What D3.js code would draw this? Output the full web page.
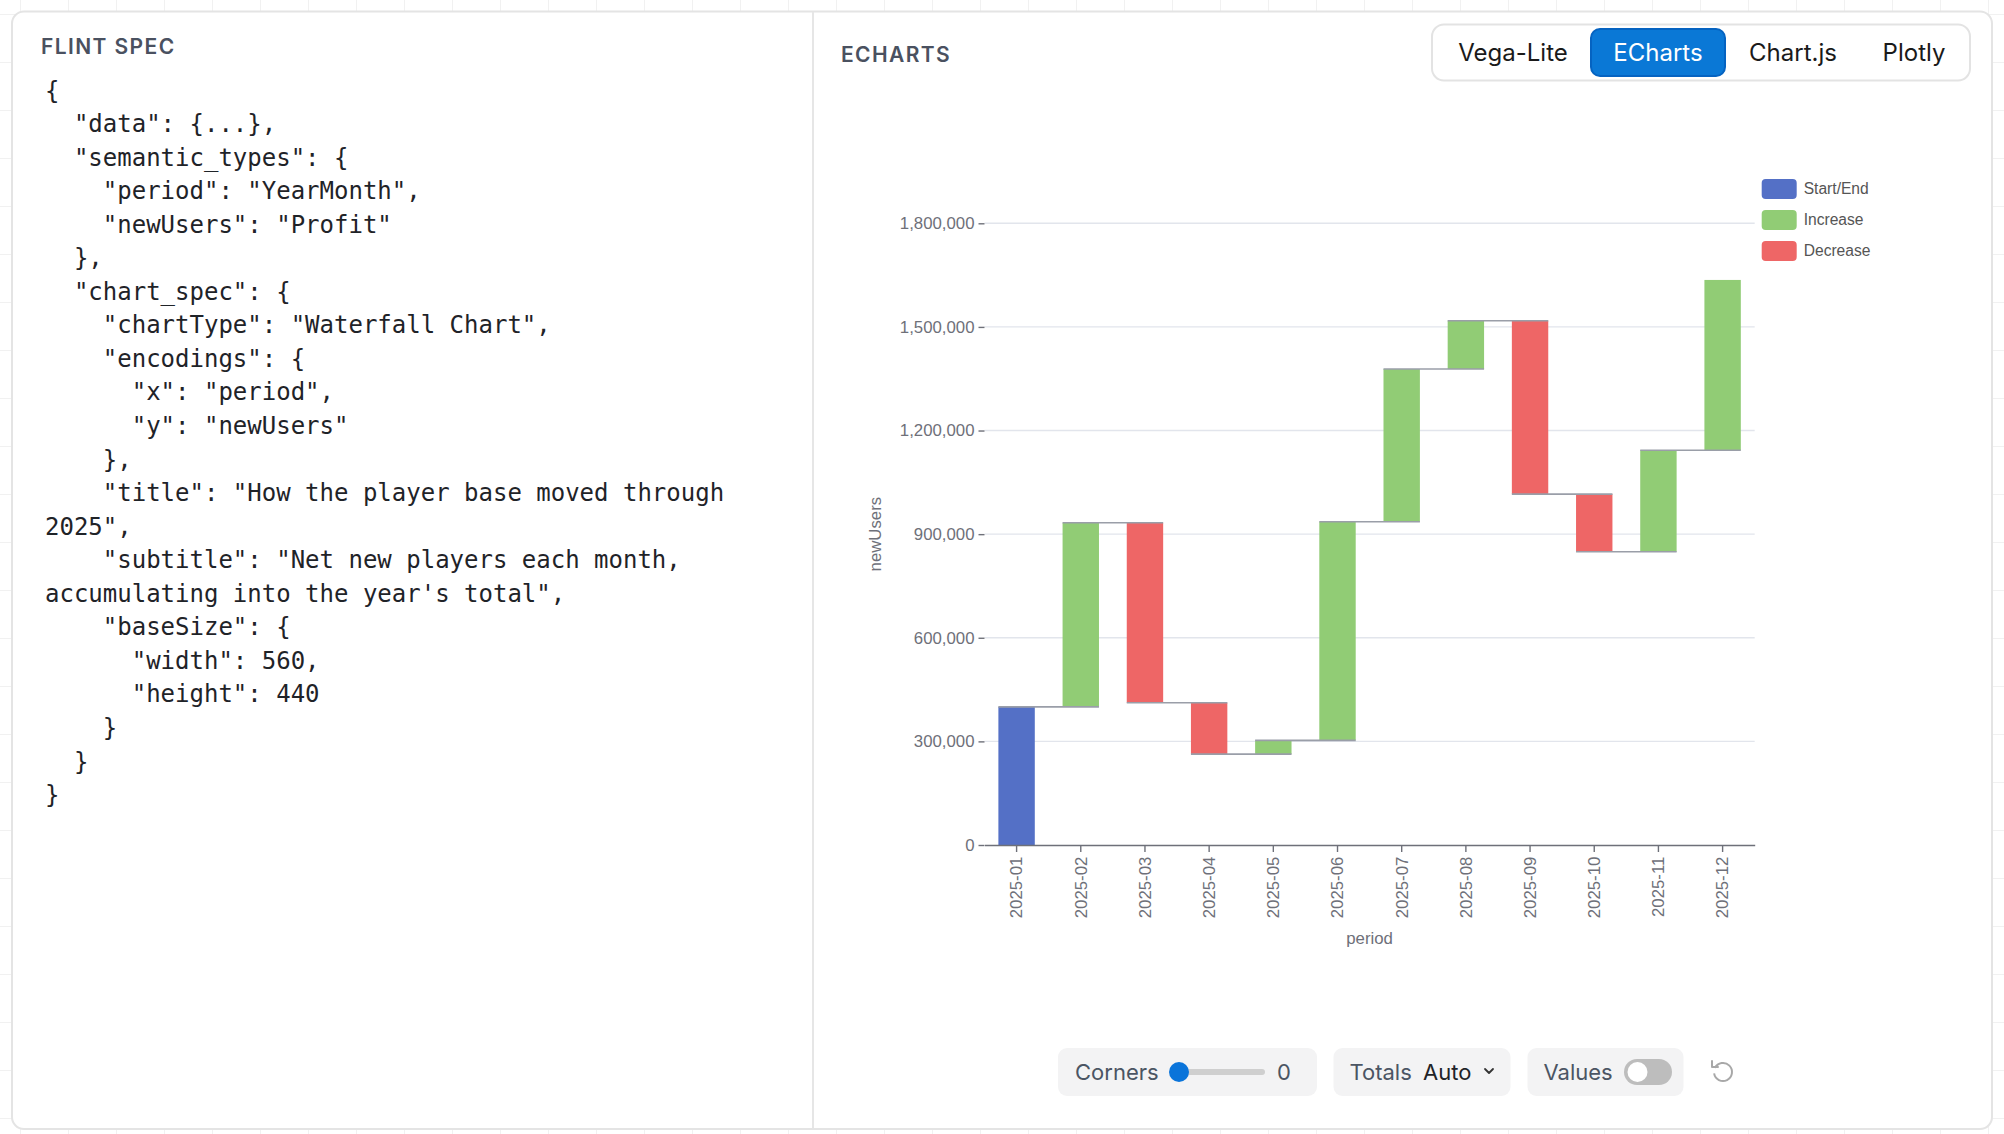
<!DOCTYPE html>
<html>
<head>
<meta charset="utf-8">
<script src="https://cdn.jsdelivr.net/npm/d3@7"></script>
<style>
  html, body { margin: 0; padding: 0; background: #fff; }
  svg { display: block; }
  .mono { font-family: "DejaVu Sans Mono", monospace; white-space: pre; }
  .ui { font-family: Inter, "Noto Sans", sans-serif; }
  .chart text { font-family: "Liberation Sans", Arial, sans-serif; }
</style>
</head>
<body>
<div id="page"></div>
<script>
// --- data ---
const periods = ['2025-01', '2025-02', '2025-03', '2025-04', '2025-05', '2025-06',
                 '2025-07', '2025-08', '2025-09', '2025-10', '2025-11', '2025-12'];
// monthly net change; the first month is the starting level
const newUsers = [400000, 533000, -521000, -149000, 40000, 633000,
                  442000, 140000, -502000, -167000, 294000, 493000];
const yTicks = [0, 300000, 600000, 900000, 1200000, 1500000, 1800000];
const legendLabels = ['Start/End', 'Increase', 'Decrease'];
const legendColors = ['#5470c6', '#91cc75', '#ee6666'];
const tabLabels = ['Vega-Lite', 'ECharts', 'Chart.js', 'Plotly'];
const specLines = [
  '{',
  '  "data": {...},',
  '  "semantic_types": {',
  '    "period": "YearMonth",',
  '    "newUsers": "Profit"',
  '  },',
  '  "chart_spec": {',
  '    "chartType": "Waterfall Chart",',
  '    "encodings": {',
  '      "x": "period",',
  '      "y": "newUsers"',
  '    },',
  '    "title": "How the player base moved through',
  '2025",',
  '    "subtitle": "Net new players each month,',
  'accumulating into the year\'s total",',
  '    "baseSize": {',
  '      "width": 560,',
  '      "height": 440',
  '    }',
  '  }',
  '}'
];

const W = 2004, H = 1134;
const svg = d3.select('#page').append('svg').attr('width', W).attr('height', H);

// --- page background grid ---
const bg = svg.append('g').attr('stroke', '#f1f1f1').attr('stroke-width', 1);
d3.range(20, W, 48).forEach(x => bg.append('line').attr('x1', x + 0.5).attr('x2', x + 0.5).attr('y1', 0).attr('y2', H));
d3.range(14, H, 48).forEach(y => bg.append('line').attr('y1', y + 0.5).attr('y2', y + 0.5).attr('x1', 0).attr('x2', W));

// --- card + divider ---
svg.append('rect').attr('x', 12).attr('y', 11.5).attr('width', 1980).attr('height', 1117.5)
  .attr('rx', 12).attr('fill', '#fff').attr('stroke', '#e4e4e4').attr('stroke-width', 2);
svg.append('line').attr('x1', 813).attr('x2', 813).attr('y1', 12).attr('y2', 1128)
  .attr('stroke', '#e6e6e6').attr('stroke-width', 2);

// --- left panel: spec ---
svg.append('text').attr('class', 'ui').attr('x', 41).attr('y', 54)
  .attr('font-size', 21).attr('font-weight', 600).attr('letter-spacing', 1.4)
  .attr('fill', '#4a5160').text('FLINT SPEC');

svg.append('g').selectAll('text').data(specLines).join('text')
  .attr('class', 'mono')
  .attr('x', 45)
  .attr('y', (d, i) => 98.5 + i * 33.55)
  .attr('font-size', 24)
  .attr('fill', '#1f2328')
  .text(d => d);

// --- right panel header ---
svg.append('text').attr('class', 'ui').attr('x', 841).attr('y', 61.5)
  .attr('font-size', 21).attr('font-weight', 600).attr('letter-spacing', 1.4)
  .attr('fill', '#4a5160').text('ECHARTS');

const tabs = svg.append('g').attr('class', 'ui');
tabs.append('rect').attr('x', 1432).attr('y', 24.5).attr('width', 538).attr('height', 56)
  .attr('rx', 12).attr('fill', '#fff').attr('stroke', '#e3e3e3').attr('stroke-width', 2);
tabs.append('rect').attr('x', 1591).attr('y', 29).attr('width', 134).attr('height', 47)
  .attr('rx', 9).attr('fill', '#0a78d6').attr('stroke', '#0563c1').attr('stroke-width', 2);
const tabCenters = [1513, 1658, 1793, 1914];
tabs.selectAll('text.tab').data(tabLabels).join('text')
  .attr('class', 'tab')
  .attr('x', (d, i) => tabCenters[i]).attr('y', 61)
  .attr('text-anchor', 'middle').attr('font-size', 24).attr('font-weight', 400)
  .attr('fill', d => d === 'ECharts' ? '#fff' : '#1a1a1a')
  .text(d => d);

// --- waterfall chart ---
const ends = [];
newUsers.reduce((acc, v) => { const e = acc + v; ends.push(e); return e; }, 0);
const rows = periods.map((p, i) => {
  const start = i === 0 ? 0 : ends[i - 1];
  const kind = i === 0 ? 'Start/End' : (newUsers[i] >= 0 ? 'Increase' : 'Decrease');
  return { period: p, start, end: ends[i], kind };
});

const plot = { left: 984.5, right: 1754.7, top: 223.3, bottom: 845 };
const x = d3.scaleBand().domain(periods).range([plot.left, plot.right]);
const y = d3.scaleLinear().domain([0, 1800000]).range([plot.bottom, plot.top]);
const color = d3.scaleOrdinal().domain(legendLabels).range(legendColors);
const barW = 36.4;
const barX = p => x(p) + (x.bandwidth() - barW) / 2;

const chart = svg.append('g').attr('class', 'chart');

// gridlines
chart.append('g').selectAll('line').data(yTicks.filter(t => t > 0)).join('line')
  .attr('x1', plot.left).attr('x2', plot.right)
  .attr('y1', d => y(d)).attr('y2', d => y(d))
  .attr('stroke', '#e2e5ec').attr('stroke-width', 1.4);

// y axis (no domain line, ticks + labels)
const yAxis = chart.append('g').attr('transform', `translate(${plot.left},0)`)
  .call(d3.axisLeft(y).tickValues(yTicks).tickSize(6).tickPadding(4).tickFormat(d3.format(',')));
yAxis.select('.domain').remove();
yAxis.selectAll('line').attr('stroke', '#6e7079').attr('stroke-width', 1.4);
yAxis.selectAll('text').attr('fill', '#6e7079').attr('font-size', 16.8)
  .style('font-family', '"Liberation Sans", Arial, sans-serif');

// bars
chart.append('g').selectAll('rect').data(rows).join('rect')
  .attr('x', d => barX(d.period))
  .attr('width', barW)
  .attr('y', d => y(Math.max(d.start, d.end)))
  .attr('height', d => Math.abs(y(d.start) - y(d.end)))
  .attr('fill', d => color(d.kind));

// connectors between consecutive bars
chart.append('g').selectAll('line').data(rows.slice(0, -1)).join('line')
  .attr('x1', d => barX(d.period))
  .attr('x2', (d, i) => barX(periods[i + 1]) + barW)
  .attr('y1', d => y(d.end)).attr('y2', d => y(d.end))
  .attr('stroke', '#9a9ea8').attr('stroke-width', 1.6);

// x axis
const xAxis = chart.append('g').attr('transform', `translate(0,${plot.bottom})`)
  .call(d3.axisBottom(x).tickSize(7).tickSizeOuter(0));
xAxis.select('.domain').attr('stroke', '#6e7079').attr('stroke-width', 1.6);
xAxis.selectAll('.tick line').attr('stroke', '#6e7079').attr('stroke-width', 1.4);
xAxis.selectAll('text')
  .attr('fill', '#6e7079').attr('font-size', 16.8)
  .style('font-family', '"Liberation Sans", Arial, sans-serif')
  .attr('transform', 'rotate(-90)')
  .attr('x', -11.7).attr('y', 0).attr('dy', '0.35em')
  .attr('text-anchor', 'end');

// axis names
chart.append('text').attr('transform', `translate(875,${(plot.top + plot.bottom) / 2}) rotate(-90)`)
  .attr('text-anchor', 'middle').attr('dy', '0.35em')
  .attr('font-size', 16.8).attr('fill', '#6e7079').text('newUsers');
chart.append('text').attr('x', (plot.left + plot.right) / 2).attr('y', 938)
  .attr('text-anchor', 'middle').attr('dy', '0.35em')
  .attr('font-size', 16.8).attr('fill', '#6e7079').text('period');

// legend
const legend = chart.append('g').selectAll('g').data(legendLabels).join('g')
  .attr('transform', (d, i) => `translate(1761.7,${189 + i * 31})`);
legend.append('rect').attr('x', 0).attr('y', -10).attr('width', 35).attr('height', 20)
  .attr('rx', 4).attr('fill', d => color(d));
legend.append('text').attr('x', 42).attr('dy', '0.35em')
  .attr('font-size', 15.6).attr('fill', '#555').text(d => d);

// --- bottom controls ---
const ctl = svg.append('g').attr('class', 'ui').attr('font-size', 22);
const pills = [[1058, 259], [1333.5, 177], [1527.5, 156]];
ctl.selectAll('rect.pill').data(pills).join('rect')
  .attr('class', 'pill')
  .attr('x', d => d[0]).attr('y', 1048).attr('width', d => d[1]).attr('height', 48)
  .attr('rx', 9).attr('fill', '#f3f3f4');
ctl.append('text').attr('x', 1075).attr('y', 1080).attr('fill', '#4b5563').text('Corners');
ctl.append('rect').attr('x', 1178).attr('y', 1069).attr('width', 87).attr('height', 6)
  .attr('rx', 3).attr('fill', '#cfcfcf');
ctl.append('circle').attr('cx', 1179).attr('cy', 1072).attr('r', 10).attr('fill', '#0a74da');
ctl.append('text').attr('x', 1284).attr('y', 1080).attr('text-anchor', 'middle').attr('fill', '#4b5563').text('0');
ctl.append('text').attr('x', 1349.5).attr('y', 1080).attr('fill', '#4b5563').text('Totals');
ctl.append('text').attr('x', 1423).attr('y', 1080).attr('fill', '#1f2328').text('Auto');
ctl.append('path').attr('d', 'M1485,1069 l4,4 l4,-4').attr('fill', 'none')
  .attr('stroke', '#333').attr('stroke-width', 1.8).attr('stroke-linecap', 'round').attr('stroke-linejoin', 'round');
ctl.append('text').attr('x', 1543.5).attr('y', 1080).attr('fill', '#4b5563').text('Values');
ctl.append('rect').attr('x', 1624).attr('y', 1059).attr('width', 48).attr('height', 26)
  .attr('rx', 13).attr('fill', '#bdbdbd');
ctl.append('circle').attr('cx', 1637.5).attr('cy', 1072).attr('r', 10).attr('fill', '#fff');

// reset icon
const arc = d3.arc().innerRadius(9).outerRadius(9).startAngle(-Math.PI * 0.35).endAngle(Math.PI * 1.45);
ctl.append('path').attr('transform', 'translate(1723,1072)').attr('d', arc())
  .attr('fill', 'none').attr('stroke', '#a8a8a8').attr('stroke-width', 2);
ctl.append('path').attr('d', 'M1712,1061 l0,6 l6,0').attr('fill', 'none')
  .attr('stroke', '#a8a8a8').attr('stroke-width', 2).attr('stroke-linecap', 'round').attr('stroke-linejoin', 'round');
</script>
</body>
</html>
